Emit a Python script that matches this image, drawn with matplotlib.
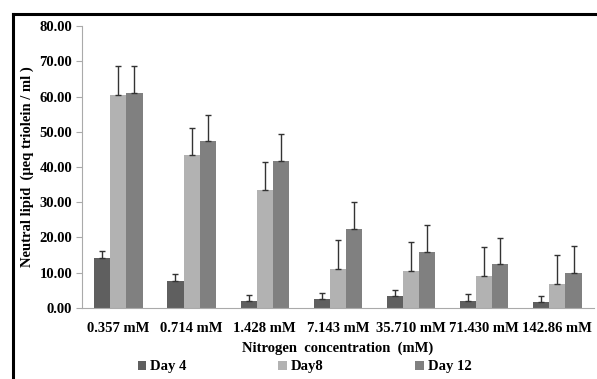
import matplotlib
matplotlib.use("Agg")
import matplotlib.pyplot as plt
import numpy as np

# data
concentrations = ["0.357 mM", "0.714 mM", "1.428 mM", "7.143 mM",
                  "35.710 mM", "71.430 mM", "142.86 mM"]
day4 = [14.0, 7.5, 1.8, 2.5, 3.2, 1.9, 1.6]
day4_err = [2.2, 2.0, 1.9, 1.8, 1.9, 1.9, 1.8]
day8 = [60.5, 43.3, 33.5, 11.0, 10.4, 9.1, 6.7]
day8_err = [8.2, 7.9, 8.0, 8.2, 8.2, 8.2, 8.2]
day12 = [61.0, 47.3, 41.6, 22.4, 15.8, 12.3, 9.9]
day12_err = [7.7, 7.5, 7.7, 7.6, 7.7, 7.6, 7.6]

series = [("Day 4", day4, day4_err, "#5f5f5f"),
          ("Day8", day8, day8_err, "#b2b2b2"),
          ("Day 12", day12, day12_err, "#808080")]

plt.rcParams["font.family"] = ["Liberation Serif", "DejaVu Serif"]
plt.rcParams["font.weight"] = "bold"
fs = 10.5

fig = plt.figure(figsize=(5.97, 3.79), dpi=100)
ax = fig.add_axes([0.137, 0.188, 0.858, 0.743])

x = np.arange(len(concentrations))
w = 0.22
for i, (name, vals, errs, col) in enumerate(series):
    ax.bar(x + (i - 1) * w, vals, w, color=col, label=name,
           yerr=[np.zeros(len(errs)), errs], capsize=2.5,
           error_kw=dict(ecolor="#333333", elinewidth=1, capthick=1))

ax.set_xlim(-0.5, len(concentrations) - 0.5)
ax.set_ylim(0, 80)
ax.set_yticks(np.arange(0, 81, 10))
ax.set_yticklabels(["%.2f" % v for v in np.arange(0, 81, 10)], fontsize=fs, fontweight="bold")
ax.set_xticks(x)
ax.set_xticklabels(concentrations, fontsize=fs, fontweight="bold")
ax.tick_params(axis="x", length=0, pad=10)
ax.tick_params(axis="y", length=4, color="#aaaaaa", pad=3)
for s in ["top", "right"]:
    ax.spines[s].set_visible(False)
ax.spines["left"].set_color("#aaaaaa")
ax.spines["bottom"].set_color("#aaaaaa")

ax.set_ylabel("Neutral lipid  (\u03bceq triolein / ml )", fontsize=fs, fontweight="bold", labelpad=4)
ax.set_xlabel("Nitrogen  concentration  (mM)", fontsize=fs, fontweight="bold", labelpad=5)

fig.legend(loc="lower center", bbox_to_anchor=(0.51, -0.02), ncol=3, frameon=False,
           handlelength=0.6, handleheight=0.6, handletextpad=0.25,
           columnspacing=6.3, prop={"weight": "bold", "size": fs})

# outer frame (left and top edges visible)
fig.add_artist(plt.Line2D([0.022, 0.022], [0.0, 0.963], color="black", lw=2.2))
fig.add_artist(plt.Line2D([0.022, 1.0], [0.963, 0.963], color="black", lw=2.2))

fig.savefig("out.png", dpi=100)
